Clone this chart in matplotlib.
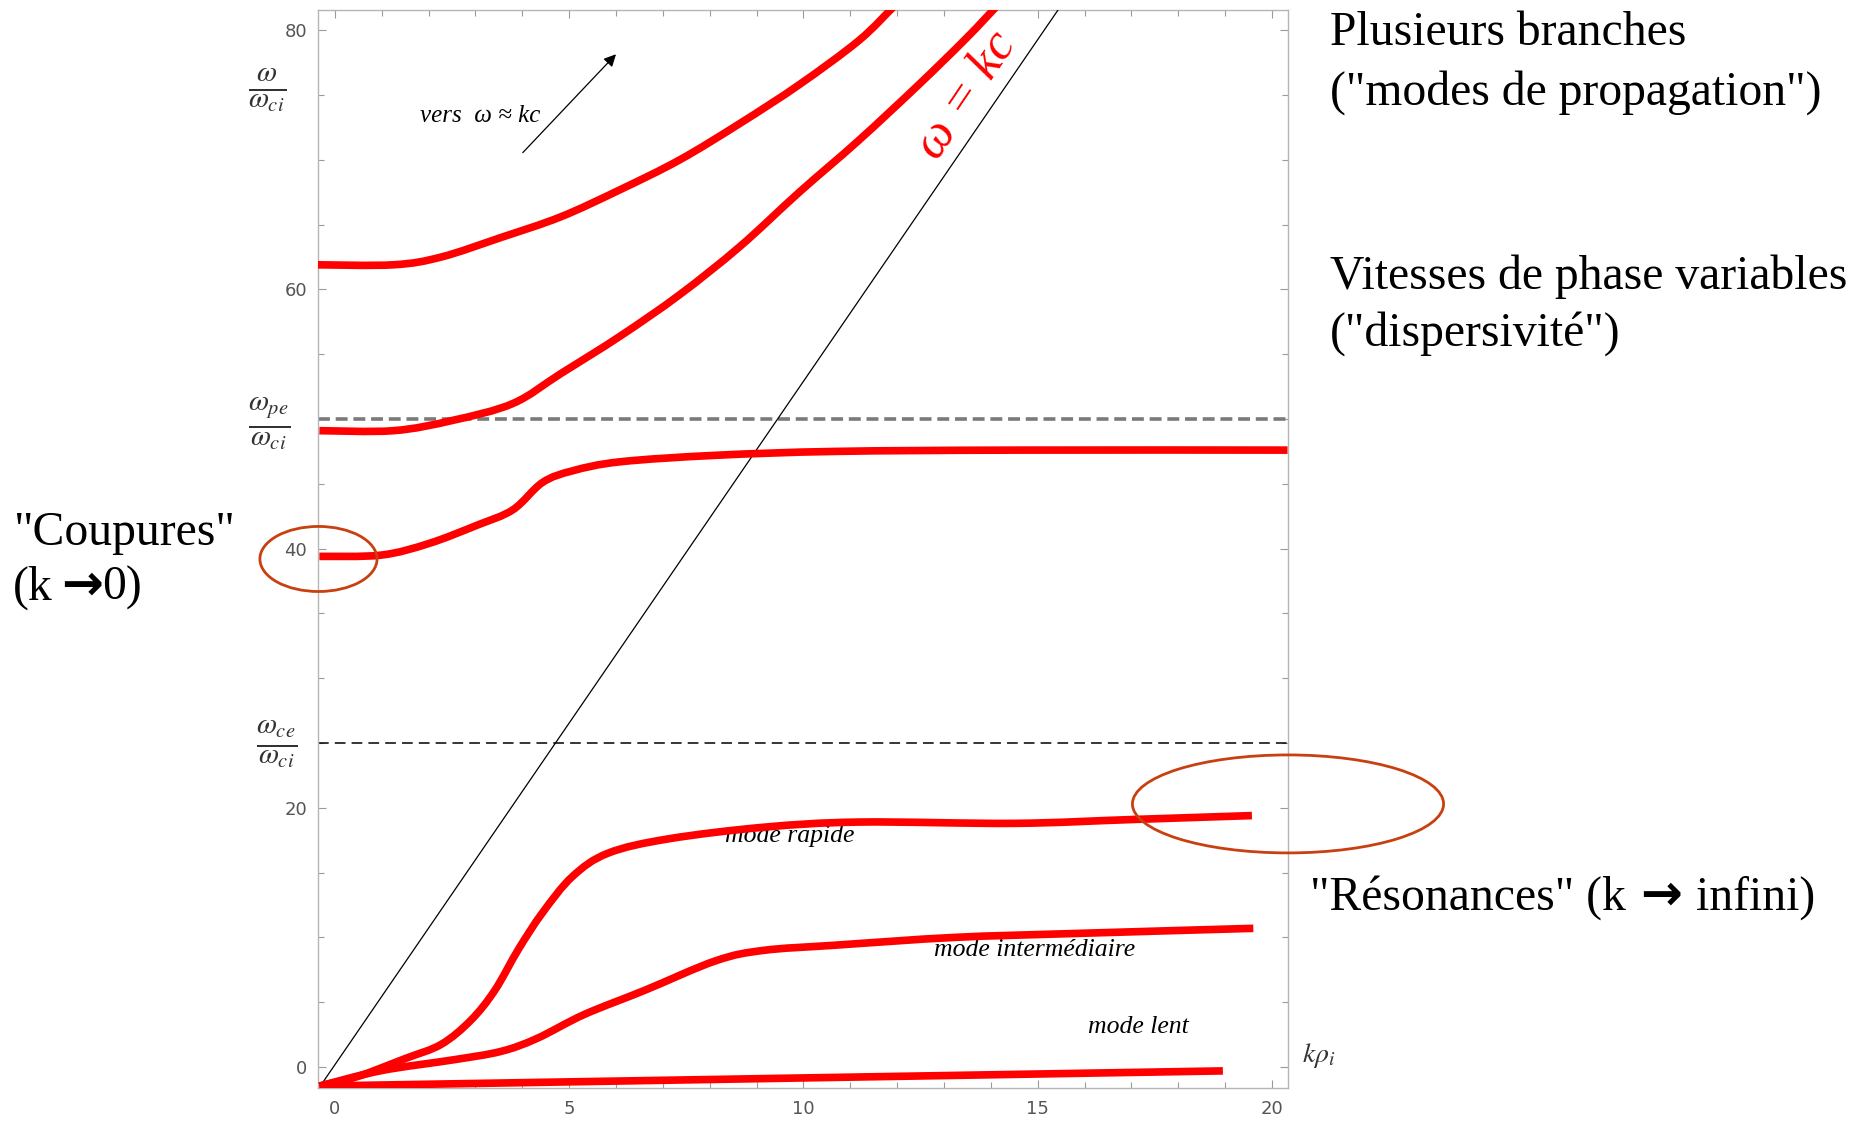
import matplotlib
matplotlib.use("Agg")
import matplotlib.pyplot as plt
import numpy as np
from matplotlib.patches import Ellipse, PathPatch
from matplotlib.path import Path
from matplotlib.ticker import MultipleLocator

plt.rcParams['mathtext.fontset'] = 'stix'

# dispersion branches (k rho_i, omega / omega_ci)
k_b1 = [-0.41, 1.25, 2.27, 3.54, 4.82, 6.09, 7.36, 8.64, 9.91, 11.18, 11.95, 12.3]
w_b1 = [61.9, 61.9, 62.5, 64.0, 65.6, 67.7, 70.0, 72.8, 75.8, 79.2, 81.9, 83.0]

k_b2 = [-0.33, 1.25, 2.52, 3.80, 4.82, 6.09, 7.36, 8.64, 9.91, 11.18, 12.46, 13.48, 14.19, 14.5]
w_b2 = [49.1, 49.1, 49.9, 51.2, 53.5, 56.4, 59.6, 63.3, 67.5, 71.5, 75.8, 79.4, 82.1, 83.2]

k_b3 = [-0.33, 0.99, 2.01, 3.03, 3.80, 4.43, 5.07, 6.09, 8.13, 10.68, 14.50, 20.33]
w_b3 = [39.4, 39.5, 40.4, 41.8, 43.0, 45.1, 46.0, 46.7, 47.2, 47.5, 47.6, 47.6]

k_rapide = [-0.33, 0.48, 1.50, 2.27, 2.90, 3.41, 3.92, 4.43, 5.07, 5.83, 7.11, 9.15, 11.18, 14.5, 17.04, 19.57]
w_rapide = [-1.47, -0.74, 0.65, 1.75, 3.6, 5.9, 9.1, 11.9, 14.7, 16.5, 17.6, 18.5, 18.9, 18.8, 19.1, 19.4]

k_inter = [-0.33, 0.99, 2.52, 3.54, 4.31, 5.32, 6.6, 8.13, 9.15, 10.68, 13.22, 15.77, 19.6]
w_inter = [-1.47, -0.28, 0.55, 1.2, 2.2, 4.05, 5.9, 8.2, 9.0, 9.4, 10.0, 10.3, 10.7]

k_lent = [-0.33, 18.95]
w_lent = [-1.47, -0.3]

# light line omega = kc
k_light = [-0.26, 15.8]
w_light = [-1.2, 83.5]

w_pe = 50.0
w_ce = 25.0


def smooth_path(xs, ys):
    # Catmull-Rom through the points, written as cubic Bezier segments
    pts = np.column_stack([xs, ys]).astype(float)
    verts = [pts[0]]
    codes = [Path.MOVETO]
    n = len(pts)
    for i in range(n - 1):
        p0 = pts[max(i - 1, 0)]
        p1, p2 = pts[i], pts[i + 1]
        p3 = pts[min(i + 2, n - 1)]
        verts += [p1 + (p2 - p0) / 6, p2 - (p3 - p1) / 6, p2]
        codes += [Path.CURVE4] * 3
    return Path(verts, codes)


fig = plt.figure(figsize=(18.72, 11.22), dpi=100)
ax = fig.add_axes([318 / 1872, 34 / 1122, 970 / 1872, 1078 / 1122])
ax.set_xlim(-0.36, 20.34)
ax.set_ylim(-1.62, 81.56)

for s in ax.spines.values():
    s.set_color('#b5b5b5')
    s.set_linewidth(1.0)

ax.xaxis.set_major_locator(MultipleLocator(5))
ax.xaxis.set_minor_locator(MultipleLocator(1))
ax.yaxis.set_major_locator(MultipleLocator(20))
ax.yaxis.set_minor_locator(MultipleLocator(5))
ax.tick_params(which='both', direction='in', top=True, right=True, color='#9a9a9a', width=0.8)
ax.tick_params(which='major', length=6, labelsize=13, labelcolor='#555555')
ax.tick_params(which='minor', length=4)
ax.tick_params(axis='x', pad=9)
ax.tick_params(axis='y', pad=8)

# reference frequencies
ax.axhline(w_pe, color='#7a7a7a', lw=2.6, dashes=(3.3, 1.6), zorder=2)
ax.axhline(w_ce, color='black', lw=1.1, dashes=(7, 4), zorder=2)

ax.plot(k_light, w_light, color='black', lw=0.9, zorder=3)

# mode names sit under the red curves
ital = dict(family='Liberation Serif', style='italic', fontsize=18.5, color='black', zorder=2)
ax.text(9.71, 17.8, 'mode rapide', ha='center', va='center', **ital)
ax.text(14.94, 9.0, 'mode interm\u00e9diaire', ha='center', va='center', **ital)
ax.text(17.14, 3.1, 'mode lent', ha='center', va='center', **ital)

for kk, ww in [(k_b1, w_b1), (k_b2, w_b2), (k_b3, w_b3),
               (k_rapide, w_rapide), (k_inter, w_inter), (k_lent, w_lent)]:
    ax.add_patch(PathPatch(smooth_path(kk, ww), fill=False, ec='#ff0000', lw=5.5,
                           capstyle='butt', joinstyle='round', zorder=4))

ax.text(13.49, 74.9, '\u03c9 = kc', family='Liberation Serif', style='italic',
        fontsize=37, color='#ff0000', rotation=56, ha='center', va='center', zorder=5)

ax.text(1.81, 72.9, 'vers  \u03c9 \u2248 kc', family='Liberation Serif', style='italic',
        fontsize=18, color='black', va='baseline')
ax.annotate('', xy=(6.04, 78.3), xytext=(3.97, 70.4),
            arrowprops=dict(arrowstyle='-|>', color='black', lw=0.9, mutation_scale=18))

# highlighted cut-off and resonance regions
ring = '#c8400f'
ax.add_patch(Ellipse((-0.35, 39.2), 2.50, 5.02, fill=False, ec=ring, lw=2, clip_on=False, zorder=6))
ax.add_patch(Ellipse((20.34, 20.3), 6.64, 7.56, fill=False, ec=ring, lw=2, clip_on=False, zorder=6))

# axis labels as fractions
lab = dict(fontsize=30, color='#333333', ha='center', va='center', clip_on=False)
ax.text(-1.45, 75.4, r'$\frac{\omega}{\omega_{ci}}$', **lab)
ax.text(-1.40, 49.6, r'$\frac{\omega_{pe}}{\omega_{ci}}$', **lab)
ax.text(-1.25, 24.9, r'$\frac{\omega_{ce}}{\omega_{ci}}$', **lab)
ax.text(21.0, 0.9, r'$k\rho_i$', fontsize=20, color='#333333', ha='center', va='center', clip_on=False)

# comments around the chart
serif = dict(family='Liberation Serif', fontsize=34.3, color='black', va='baseline')
arrow = dict(family='DejaVu Sans', fontweight='bold', fontsize=36, color='black', va='baseline')
renderer = fig.canvas.get_renderer()


def note(x, y, parts):
    # lay out pieces of one line left to right, in pixels from the top-left
    for s, props, gap in parts:
        x += gap
        t = fig.text(x / 1872, 1 - y / 1122, s, **props)
        x = t.get_window_extent(renderer).x1


note(1330, 45, [('Plusieurs branches', serif, 0)])
note(1330, 105, [('("modes de propagation")', serif, 0)])
note(1330, 289, [('Vitesses de phase variables', serif, 0)])
note(1330, 346, [('("dispersivit\u00e9")', serif, 0)])
note(13, 545, [('"Coupures"', serif, 0)])
note(13, 600, [('(k', serif, 0), ('\u2192', arrow, 8), ('0)', serif, 0)])
note(1310, 910, [('"R\u00e9sonances" (k', serif, 0), ('\u2192', arrow, 14), ('infini)', serif, 14)])

fig.savefig('out.png', dpi=100)
